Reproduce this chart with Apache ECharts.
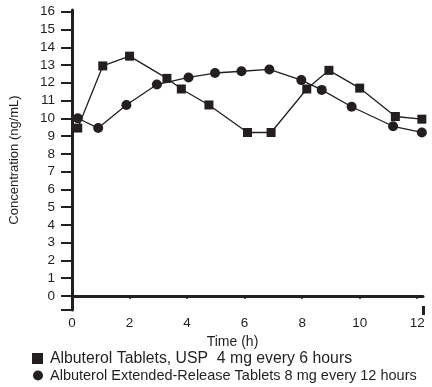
<!DOCTYPE html>
<html>
<head>
<meta charset="utf-8">
<script src="https://cdn.jsdelivr.net/npm/echarts@6/dist/echarts.min.js"></script>
<style>
  html, body { margin: 0; padding: 0; background: #fff; }
  #chart { width: 432px; height: 387px; }
</style>
</head>
<body>
<div id="chart"></div>
<script>
var ink = '#231f20';
var font = 'Liberation Sans, Arial, Helvetica, sans-serif';

var tabletName = 'Albuterol Tablets, USP  4 mg every 6 hours';
var extendedName = 'Albuterol Extended-Release Tablets 8 mg every 12 hours';

// time (h), concentration (ng/mL)
var tabletTimes = [0.2, 1.07, 2.0, 3.3, 3.8, 4.76, 6.1, 6.92, 8.16, 8.93, 10.0, 11.24, 12.16];
var tabletConc = [9.45, 12.95, 13.5, 12.25, 11.65, 10.75, 9.2, 9.2, 11.65, 12.7, 11.7, 10.1, 9.95];

var extendedTimes = [0.2, 0.91, 1.89, 2.95, 4.05, 4.97, 5.89, 6.86, 7.97, 8.68, 9.72, 11.16, 12.16];
var extendedConc = [10.0, 9.45, 10.75, 11.9, 12.3, 12.55, 12.65, 12.75, 12.15, 11.6, 10.65, 9.55, 9.2];

var xLabels = [0, 2, 4, 6, 8, 10, 12];
var yLabels = [0, 1, 2, 3, 4, 5, 6, 7, 8, 9, 10, 11, 12, 13, 14, 15, 16];
var xMax = 12.2;

function pairs(xs, ys) {
  var out = [];
  for (var i = 0; i < xs.length; i++) out.push([xs[i], ys[i]]);
  return out;
}

var chart = echarts.init(document.getElementById('chart'));
chart.setOption({
  animation: false,
  backgroundColor: '#fff',
  textStyle: { fontFamily: font, color: ink },
  grid: { left: 70, right: 9, top: 10, bottom: 77 },
  legend: [
    {
      left: 32, top: 350.5, padding: 0,
      icon: 'rect', itemWidth: 11, itemHeight: 11, itemGap: 0,
      data: [tabletName],
      textStyle: { fontSize: 15.8, color: ink, fontFamily: font, padding: [0, 0, 0, 2] }
    },
    {
      left: 33, top: 368, padding: 0,
      icon: 'circle', itemWidth: 10, itemHeight: 10, itemGap: 0,
      data: [extendedName],
      textStyle: { fontSize: 14.5, color: ink, fontFamily: font, padding: [0, 0, 0, 2] }
    }
  ],
  xAxis: [
    {
      type: 'value',
      min: 0,
      max: xMax,
      name: 'Time (h)',
      nameLocation: 'middle',
      nameGap: 22,
      nameTextStyle: { fontSize: 14, color: ink, fontFamily: font, padding: [0, 30, 0, 0] },
      axisLine: { show: true, lineStyle: { color: ink, width: 3 } },
      axisTick: { show: true, length: 3, lineStyle: { color: ink, width: 2 }, customValues: xLabels },
      axisLabel: { customValues: xLabels, fontSize: 13.5, color: ink, margin: 6, fontFamily: font },
      splitLine: { show: false }
    },
    {
      // end cap of the time axis, straddling the line
      type: 'value',
      position: 'bottom',
      offset: -4,
      min: 0,
      max: xMax,
      axisLine: { show: false },
      axisTick: { show: true, length: 9, lineStyle: { color: ink, width: 3 }, customValues: [xMax] },
      axisLabel: { show: false },
      splitLine: { show: false }
    }
  ],
  yAxis: {
    type: 'value',
    min: -0.8,
    max: 16.1,
    name: 'Concentration (ng/mL)',
    nameLocation: 'middle',
    nameGap: 51,
    nameTextStyle: { fontSize: 13, color: ink, fontFamily: font },
    axisLine: { show: true, lineStyle: { color: ink, width: 3 } },
    axisTick: { show: true, length: 11, lineStyle: { color: ink, width: 2 }, customValues: [-0.8].concat(yLabels) },
    axisLabel: { customValues: yLabels, fontSize: 13.5, color: ink, margin: 17, fontFamily: font },
    splitLine: { show: false }
  },
  series: [
    {
      name: tabletName,
      type: 'line',
      data: pairs(tabletTimes, tabletConc),
      symbol: 'rect',
      symbolSize: 9,
      itemStyle: { color: ink },
      lineStyle: { color: ink, width: 1.3 }
    },
    {
      name: extendedName,
      type: 'line',
      data: pairs(extendedTimes, extendedConc),
      symbol: 'circle',
      symbolSize: 10,
      itemStyle: { color: ink },
      lineStyle: { color: ink, width: 1.3 }
    }
  ]
});
</script>
</body>
</html>
